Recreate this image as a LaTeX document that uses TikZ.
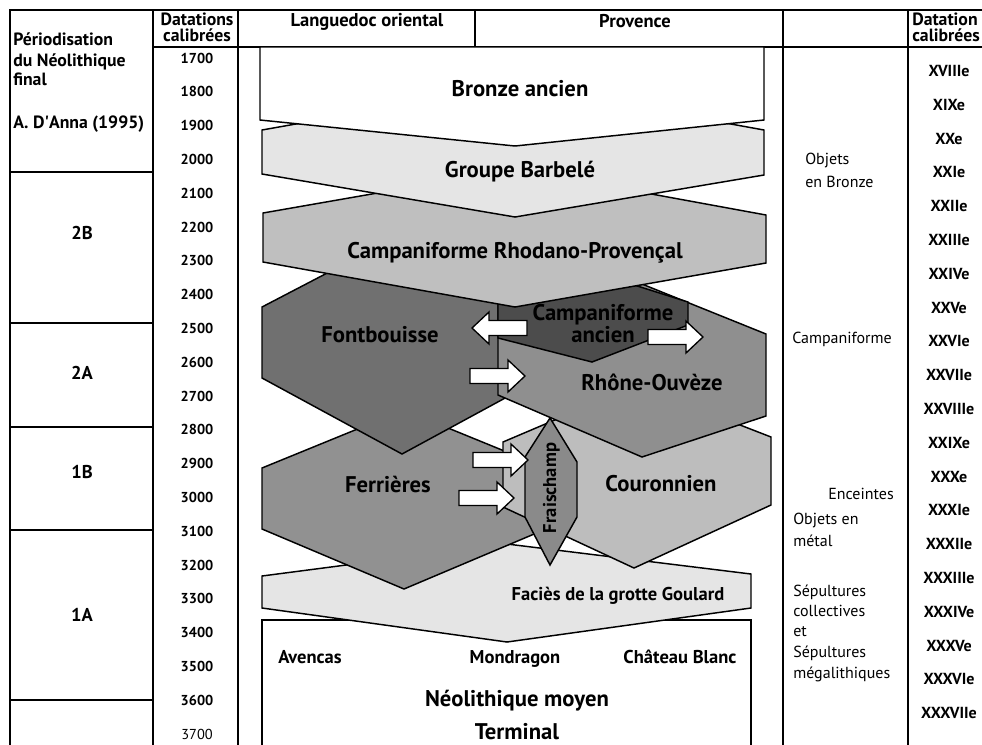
\documentclass[tikz,border=0pt]{standalone}
\usepackage{fontspec}
\setmainfont{PT Sans}
\definecolor{grisclair}{gray}{0.9}
\definecolor{grismoyen}{gray}{0.75}
\definecolor{grisfont}{gray}{0.44}
\definecolor{grisrhone}{gray}{0.56}
\definecolor{grisfonce}{gray}{0.30}
\definecolor{grisferr}{gray}{0.57}
\definecolor{griscour}{gray}{0.74}
\definecolor{grisfrai}{gray}{0.54}
\begin{document}
\begin{tikzpicture}[x=0.75pt,y=-0.75pt,
  trait/.style={line width=1.4pt},
  forme/.style={draw=black,line width=1.1pt,line join=miter},
  fleche/.style={draw=black,line width=1pt,fill=white,line join=miter},
  flecheD/.pic={\path[fleche,pic actions] (0,0) -- (-17,-16) -- (-17,-7.5) -- (-55,-7.5) -- (-55,7.5) -- (-17,7.5) -- (-17,16) -- cycle;},
  grand/.style={font=\fontsize{17}{18}\bfseries,anchor=base,inner sep=0pt},
  moyen/.style={font=\fontsize{13.9}{15}\bfseries,anchor=base,inner sep=0pt},
  entete/.style={font=\fontsize{13.3}{14}\bfseries,anchor=base,inner sep=0pt},
  gauche/.style={font=\fontsize{13.3}{14}\bfseries,anchor=base west,inner sep=0pt},
  date/.style={font=\fontsize{10.8}{12}\bfseries,inner sep=0pt},
  siecle/.style={font=\fontsize{12}{13}\bfseries,inner sep=0pt},
  note/.style={font=\fontsize{12}{13}\selectfont,anchor=base west,inner sep=0pt}]

  \useasboundingbox (0,0) rectangle (982,744);
  \clip (0,0) rectangle (982,744);

  % cadre du tableau
  \draw[trait] (10,750) -- (10,10) -- (990,10);
  \draw[trait] (153,47) -- (990,47);
  \draw[trait] (153,10) -- (153,750);
  \draw[trait] (238,10) -- (238,750);
  \draw[trait] (475,10) -- (475,47);
  \draw[trait] (783,10) -- (783,750);
  \draw[trait] (908,10) -- (908,750);
  \foreach \y in {172,323,427,530,700}
    \draw[trait] (10,\y) -- (153,\y);

  % en-tetes
  \node[entete] (dat1) at (197,25) {Datations};
  \node[entete] (cal1) at (197,41) {calibrées};
  \node[moyen] (lang) at (367,26) {Languedoc oriental};
  \node[moyen] (prov) at (635,27) {Provence};
  \node[entete,anchor=base west] (dat2) at (912,25) {Datation};
  \node[entete,anchor=base west] (cal2) at (912,41) {calibrées};

  % periodisation
  \node[gauche] (per1) at (13,45.5) {Périodisation};
  \node[gauche] (per2) at (13,66.5) {du Néolithique};
  \node[gauche] (per3) at (13,85) {final};
  \node[gauche] (anna) at (13,128) {A. D\textquotesingle Anna (1995)};
  \node[moyen,anchor=center] (p2B) at (82,233) {2B};
  \node[moyen,anchor=center] (p2A) at (82,373) {2A};
  \node[moyen,anchor=center] (p1B) at (82,472) {1B};
  \node[moyen,anchor=center] (p1A) at (82,615) {1A};

  % dates
  \foreach \a [count=\i from 0] in {1700,1800,...,3600}
    \node[date] (d\a) at (197,58+33.8*\i) {\a};
  \node[date,font=\fontsize{10.8}{12}\selectfont] (d3700) at (197,734) {3700};
  \foreach \s [count=\i from 0] in {XVIIIe,XIXe,XXe,XXIe,XXIIe,XXIIIe,XXIVe,XXVe,XXVIe,XXVIIe,XXVIIIe,XXIXe,XXXe,XXXIe,XXXIIe,XXXIIIe,XXXIVe,XXXVe,XXXVIe,XXXVIIe}
    \node[siecle] (s\i) at (949,71+33.8*\i) {\s};

  % colonne des objets
  \node[note] (obj1) at (805,164) {Objets};
  \node[note] (obj2) at (805,187) {en Bronze};
  \node[note] (camp) at (792,343) {Campaniforme};
  \node[note] (ence) at (828,499) {Enceintes};
  \node[note] (met1) at (793,524) {Objets en};
  \node[note] (met2) at (793,546) {métal};
  \node[note] (sep1) at (793,596) {Sépultures};
  \node[note] (sep2) at (793,616) {collectives};
  \node[note] (sep3) at (793,636) {et};
  \node[note] (sep4) at (793,657) {Sépultures};
  \node[note] (sep5) at (793,678) {mégalithiques};

  % cultures, du bas vers le haut
  \draw[forme,fill=white] (262,760) -- (262,620) -- (751,620) -- (751,760);
  \draw[forme,fill=grisclair] (262,576) -- (507,544) -- (751,574) -- (751,608) -- (507,642) -- (262,608) -- cycle;
  \draw[forme,fill=grisferr] (262,468) -- (404,410) -- (546,468) -- (546,529) -- (404,589) -- (262,529) -- cycle;
  \draw[forme,fill=griscour] (503,442) -- (637,385) -- (771,437) -- (771,505) -- (634,568) -- (503,507) -- cycle;
  \draw[forme,fill=grisfrai] (550,418) -- (577,462) -- (577,517) -- (550,565) -- (525,517) -- (525,457) -- cycle;
  \pic (f4) at (528,460) {flecheD};
  \pic (f5) at (514,498) {flecheD};

  \draw[forme,fill=grisfont] (262,307) -- (402,234) -- (542,307) -- (542,378) -- (402,454) -- (262,378) -- cycle;
  \draw[forme,fill=grisrhone] (498,305) -- (632,280) -- (766,334) -- (766,416) -- (642,457) -- (498,395) -- cycle;
  \draw[forme,fill=grisfonce] (498,302) -- (593,272) -- (688,302) -- (688,325) -- (592,362) -- (498,338) -- cycle;
  \pic[xscale=-1] (f1) at (472,328) {flecheD};
  \pic (f2) at (703,337) {flecheD};
  \pic[fill=grisclair] (f3) at (525,376) {flecheD};

  \draw[forme,fill=grismoyen] (263,213) -- (515,169) -- (766,215) -- (766,263) -- (515,307) -- (263,262) -- cycle;
  \draw[forme,fill=grisclair] (262,130) -- (515,85) -- (764,130) -- (764,175) -- (515,217) -- (262,174) -- cycle;
  \draw[forme,fill=white] (260,47) -- (764,47) -- (764,120) -- (515,146) -- (260,120) -- cycle;

  % noms des cultures
  \node[grand] (bronze) at (520,96) {Bronze ancien};
  \node[grand] (barbele) at (520,177) {Groupe Barbelé};
  \node[grand] (crp) at (515,258) {Campaniforme Rhodano-Provençal};
  \node[grand] (fontb) at (380,342) {Fontbouisse};
  \node[grand] (ca1) at (603,320) {Campaniforme};
  \node[grand] (ca2) at (603,342) {ancien};
  \node[grand] (rhone) at (652,390) {Rhône-Ouvèze};
  \node[grand] (ferr) at (388,492) {Ferrières};
  \node[grand] (cour) at (661,491) {Couronnien};
  \node[moyen,rotate=90] (frai) at (556,488) {Fraischamp};
  \node[moyen] (goul) at (618,600) {Faciès de la grotte Goulard};
  \node[moyen] (aven) at (310,663) {Avencas};
  \node[moyen] (mond) at (515,663) {Mondragon};
  \node[moyen] (chat) at (680,663) {Château Blanc};
  \node[grand] (neo1) at (517,706) {Néolithique moyen};
  \node[grand] (neo2) at (517,739) {Terminal};
\end{tikzpicture}
\end{document}
